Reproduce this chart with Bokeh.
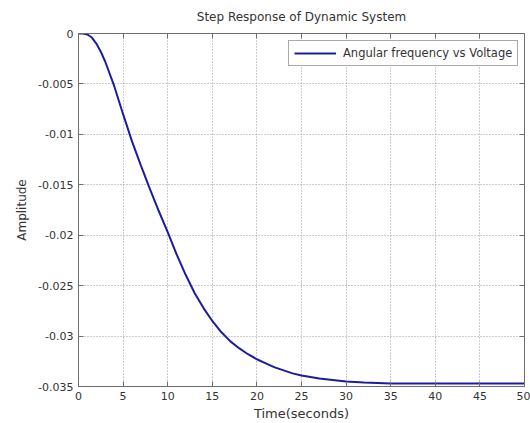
from bokeh.plotting import figure
from bokeh.models import (FixedTicker, LinearAxis, Range1d, Legend, LegendItem,
                          CustomLabelingPolicy)
from bokeh.embed import file_html
from bokeh.resources import INLINE

# ---- data ----
time_s = [0, 0.5, 1, 1.5, 2, 2.5, 3, 4, 5, 6, 7, 8, 9, 10, 11, 12, 13, 14, 15,
          16, 17, 18, 19, 20, 21, 22, 23, 24, 25, 27, 29, 30, 32, 35, 40, 45, 50]
amplitude = [0.0, 0.0, -0.0001, -0.0004, -0.0010, -0.0018, -0.0028, -0.0052,
             -0.0080, -0.0107, -0.0131, -0.0154, -0.0176, -0.0197, -0.0219,
             -0.0239, -0.0257, -0.0272, -0.0285, -0.0296, -0.0305, -0.0312,
             -0.0318, -0.0323, -0.0327, -0.0331, -0.0334, -0.0337, -0.0339,
             -0.0342, -0.0344, -0.0345, -0.0346, -0.0347, -0.0347, -0.0347,
             -0.0347]
x_ticks = [0, 5, 10, 15, 20, 25, 30, 35, 40, 45, 50]
x_tick_labels = ["0", "5", "10", "15", "20", "25", "30", "35", "40", "45", "50"]
y_ticks = [0, -0.005, -0.01, -0.015, -0.02, -0.025, -0.03, -0.035]
y_tick_labels = ["0", "-0.005", "-0.01", "-0.015", "-0.02", "-0.025", "-0.03", "-0.035"]
series_name = "Angular frequency vs Voltage"
title_text = "Step Response of Dynamic System"
x_label = "Time(seconds)"
y_label = "Amplitude"

FONT = "DejaVu Sans"
TXT = "#333333"
AX = "#6e6e6e"

p = figure(width=530, height=423, output_backend="svg", toolbar_location=None,
           x_range=Range1d(0, 50), y_range=Range1d(-0.035, 0),
           min_border_left=78, min_border_right=0, min_border_top=33,
           min_border_bottom=36)
p.background_fill_color = "white"
p.border_fill_color = "white"
p.outline_line_color = AX
p.outline_line_width = 1

p.title.text = title_text
p.title.align = "center"
p.title.text_font = FONT
p.title.text_font_size = "12px"
p.title.text_font_style = "normal"
p.title.text_color = TXT
p.title.standoff = 11

ax_ticks = {"x": x_ticks, "y": y_ticks}

xa = p.xaxis[0]
ya = p.yaxis[0]
for ax, key, labs in ((xa, "x", x_tick_labels), (ya, "y", y_tick_labels)):
    ax.ticker = FixedTicker(ticks=ax_ticks[key])
    ax.major_tick_in = 5
    ax.major_tick_out = 0
    ax.minor_tick_in = 0
    ax.minor_tick_out = 0
    ax.axis_line_color = AX
    ax.major_tick_line_color = AX
    ax.major_label_text_font = FONT
    ax.major_label_text_font_size = "11px"
    ax.major_label_text_color = TXT
    ax.axis_label_text_font = FONT
    ax.axis_label_text_font_style = "normal"
    ax.axis_label_text_color = TXT
    ax.major_label_overrides = {t: l for t, l in zip(ax_ticks[key], labs)}
xa.axis_label = x_label
ya.axis_label = y_label
xa.axis_label_text_font_size = "13px"
ya.axis_label_text_font_size = "12px"
xa.major_label_standoff = 5
ya.major_label_standoff = 5
xa.axis_label_standoff = 3
ya.axis_label_standoff = 6

# ticks on top and right (box on), labels hidden
for loc, key in (("above", "x"), ("right", "y")):
    ax = LinearAxis(ticker=FixedTicker(ticks=ax_ticks[key]))
    ax.major_tick_in = 5
    ax.major_tick_out = 0
    ax.minor_tick_in = 0
    ax.minor_tick_out = 0
    ax.axis_line_color = AX
    ax.major_tick_line_color = AX
    ax.major_label_text_font_size = "1px"
    ax.major_label_standoff = 0
    ax.major_label_policy = CustomLabelingPolicy(code="return new Set()")
    p.add_layout(ax, loc)

p.xgrid.ticker = FixedTicker(ticks=x_ticks)
p.ygrid.ticker = FixedTicker(ticks=y_ticks)
for g in (p.xgrid[0], p.ygrid[0]):
    g.grid_line_color = "#9a9a9a"
    g.grid_line_dash = "1 2"
    g.grid_line_width = 1

r = p.line(time_s, amplitude, line_color="#1c1ca0", line_width=2)

legend = Legend(items=[LegendItem(label=series_name, renderers=[r])],
                location=(210, 320))
legend.margin = 0
legend.padding = 5
legend.glyph_width = 42
legend.glyph_height = 14
legend.label_standoff = 7
legend.label_text_font = FONT
legend.label_text_font_size = "11.5px"
legend.label_text_color = TXT
legend.border_line_color = "#555555"
legend.border_line_width = 1
legend.background_fill_color = "white"
legend.background_fill_alpha = 1
p.add_layout(legend)

open("out.html", "w").write(file_html(p, INLINE))
